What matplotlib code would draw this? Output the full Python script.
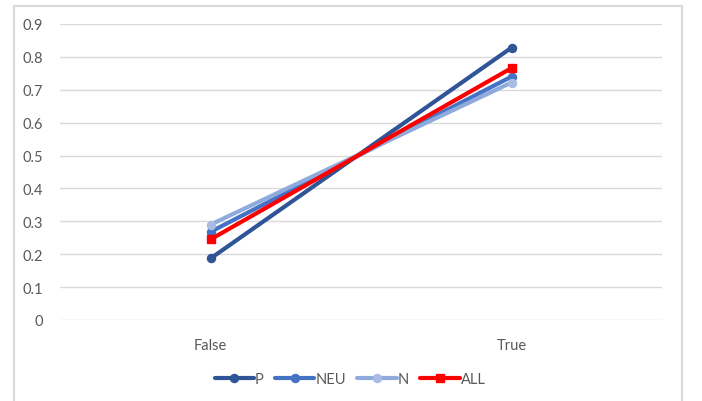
import matplotlib
matplotlib.use("Agg")
import matplotlib.pyplot as plt
from matplotlib.lines import Line2D

plt.rcParams['font.family'] = ['Lato', 'DejaVu Sans']

categories = ["False", "True"]
series_names = ["P", "NEU", "N", "ALL"]
p_vals = [0.187, 0.828]
neu_vals = [0.268, 0.740]
n_vals = [0.290, 0.722]
all_vals = [0.245, 0.766]

TEXT = "#595959"
GRID = "#D9D9D9"

## style per series: line color, marker color, marker
styles = {
    "P":   ("#2F5597", "#2F5597", "o"),
    "NEU": ("#4472C4", "#4472C4", "o"),
    "N":   ("#8FAADC", "#A9BCE3", "o"),
    "ALL": ("#FF0000", "#FF0000", "s"),
}


def main():
    fig = plt.figure(figsize=(7.02, 4.02), dpi=100)
    ax = fig.add_axes([60/702, (402-321)/402, (662-60)/702, (321-25)/402])

    x = list(range(len(categories)))
    for name, vals in zip(series_names, [p_vals, neu_vals, n_vals, all_vals]):
        lc, mc, mk = styles[name]
        ax.plot(x, vals, color=lc, linewidth=3, marker=mk, markersize=5.8,
                markerfacecolor=mc, markeredgecolor=mc,
                label=name, solid_capstyle='round')

    ## axes
    ax.set_xlim(-0.5, len(categories) - 0.5)
    ax.set_ylim(0, 0.9)
    ax.set_yticks([i / 10 for i in range(10)])
    ax.set_yticklabels(["0"] + ["%.1f" % (i / 10) for i in range(1, 10)])
    ax.set_xticks(x)
    ax.set_xticklabels(categories)
    ax.tick_params(axis='y', length=0, pad=12, labelsize=10.5, labelcolor=TEXT)
    ax.tick_params(axis='x', length=0, pad=13, labelsize=10.5, labelcolor=TEXT)
    ax.grid(axis='y', color=GRID, linewidth=1)
    ax.set_axisbelow(True)
    for s in ax.spines.values():
        s.set_visible(False)

    ## legend
    ax.legend(loc='center', bbox_to_anchor=(0.4817, -0.2), ncol=4, frameon=False,
              fontsize=10.5, labelcolor=TEXT, handlelength=2.7, handletextpad=0.05,
              columnspacing=0.8)

    ## outer chart border
    bc = "#D9D9D9"
    fig.add_artist(Line2D([14/702, 14/702], [0, (402-7)/402], color=bc, lw=1.5))
    fig.add_artist(Line2D([682/702, 682/702], [0, (402-7)/402], color=bc, lw=1.5))
    fig.add_artist(Line2D([14/702, 682/702], [(402-7)/402, (402-7)/402], color=bc, lw=1.5))

    fig.savefig("out.png", dpi=100)
    return 0


if __name__ == '__main__':
    main()
